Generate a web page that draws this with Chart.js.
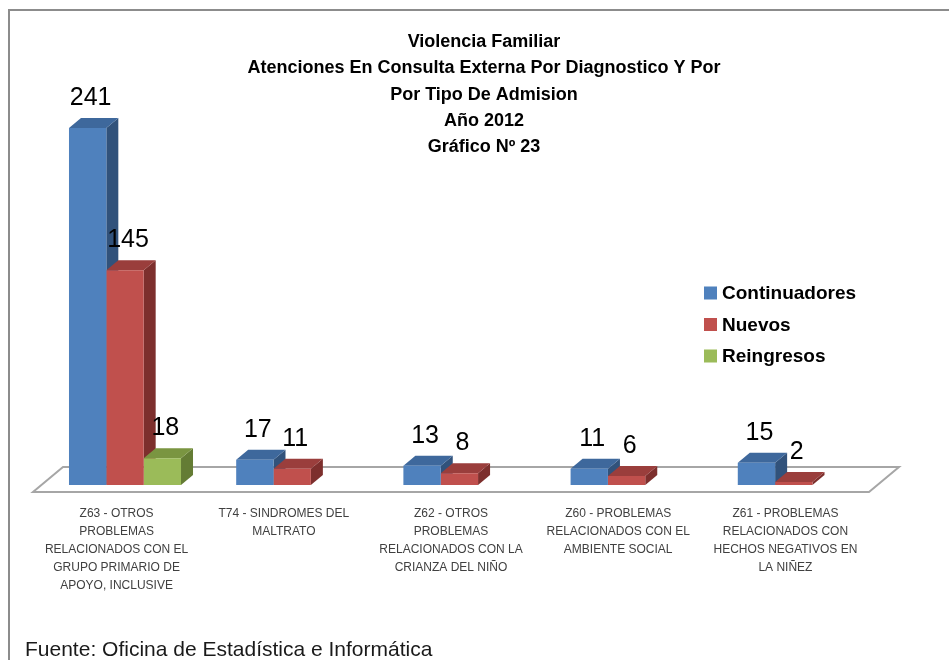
<!DOCTYPE html>
<html>
<head>
<meta charset="utf-8">
<script src="https://cdn.jsdelivr.net/npm/chart.js@4.4.1/dist/chart.umd.min.js"></script>
<style>
  html, body { margin: 0; padding: 0; background: #ffffff; }
  #wrap { width: 949px; height: 660px; position: relative; }
</style>
</head>
<body>
<div id="wrap"><canvas id="chart" width="949" height="660"></canvas></div>
<script>
// Diagnosis categories (multi-line axis labels)
const categories = [
  ["Z63 - OTROS", "PROBLEMAS", "RELACIONADOS CON EL", "GRUPO PRIMARIO DE", "APOYO, INCLUSIVE"],
  ["T74 - SINDROMES DEL", "MALTRATO"],
  ["Z62 - OTROS", "PROBLEMAS", "RELACIONADOS CON LA", "CRIANZA DEL NIÑO"],
  ["Z60 - PROBLEMAS", "RELACIONADOS CON EL", "AMBIENTE SOCIAL"],
  ["Z61 - PROBLEMAS", "RELACIONADOS CON", "HECHOS NEGATIVOS EN", "LA NIÑEZ"]
];

// Attentions per admission type
const continuadores = [241, 17, 13, 11, 15];
const nuevos        = [145, 11, 8, 6, 2];
const reingresos    = [18, null, null, null, null];

const seriesNames = ["Continuadores", "Nuevos", "Reingresos"];

const titleLines = [
  "Violencia Familiar",
  "Atenciones En Consulta Externa Por Diagnostico Y Por",
  "Por Tipo De Admision",
  "Año 2012",
  "Gráfico Nº 23"
];
const sourceNote = "Fuente: Oficina de Estadística e Informática";

// Face shades for the 3D boxes: front, top, side
const shades = [
  { front: "#4F81BD", top: "#3E689C", side: "#31527B" },
  { front: "#C0504D", top: "#9A3E3C", side: "#7D2F2D" },
  { front: "#9BBB59", top: "#7A9541", side: "#647C34" }
];

// Oblique projection of depth
const BAR_DX = 12, BAR_DY = 10;                   // depth of each box
const FLOOR_FRONT_DX = -8.4, FLOOR_FRONT_DY = 7;  // floor front edge relative to bar fronts
const FLOOR_DX = 30, FLOOR_DY = 25;               // full floor depth

function poly(ctx, pts, fill) {
  ctx.beginPath();
  ctx.moveTo(pts[0][0], pts[0][1]);
  for (let i = 1; i < pts.length; i++) ctx.lineTo(pts[i][0], pts[i][1]);
  ctx.closePath();
  ctx.fillStyle = fill;
  ctx.fill();
}

const boxes3d = {
  id: "boxes3d",
  beforeDraw(chart) {
    const ctx = chart.ctx;
    ctx.save();
    // outer frame (left and top edges visible)
    ctx.strokeStyle = "#8C8C8C";
    ctx.lineWidth = 2;
    ctx.beginPath();
    ctx.moveTo(9, 700);
    ctx.lineTo(9, 10);
    ctx.lineTo(960, 10);
    ctx.stroke();
    ctx.restore();
  },
  beforeDatasetsDraw(chart) {
    const ctx = chart.ctx;
    const area = chart.chartArea;
    ctx.save();
    // floor
    const fy = area.bottom + FLOOR_FRONT_DY;
    const fl = area.left + FLOOR_FRONT_DX;
    const fr = area.right + FLOOR_FRONT_DX;
    ctx.beginPath();
    ctx.moveTo(fl, fy);
    ctx.lineTo(fr, fy);
    ctx.lineTo(fr + FLOOR_DX, fy - FLOOR_DY);
    ctx.lineTo(fl + FLOOR_DX, fy - FLOOR_DY);
    ctx.closePath();
    ctx.fillStyle = "#FFFFFF";
    ctx.fill();
    ctx.strokeStyle = "#A6A6A6";
    ctx.lineWidth = 2;
    ctx.stroke();
    // side and top faces, left to right inside each group
    const n = chart.data.labels.length;
    for (let i = 0; i < n; i++) {
      chart.data.datasets.forEach((ds, d) => {
        if (ds.data[i] == null) return;
        const el = chart.getDatasetMeta(d).data[i];
        const x0 = el.x - el.width / 2, x1 = el.x + el.width / 2;
        const top = el.y, base = el.base;
        poly(ctx, [[x1, top], [x1 + BAR_DX, top - BAR_DY], [x1 + BAR_DX, base - BAR_DY], [x1, base]], shades[d].side);
        poly(ctx, [[x0, top], [x0 + BAR_DX, top - BAR_DY], [x1 + BAR_DX, top - BAR_DY], [x1, top]], shades[d].top);
      });
    }
    ctx.restore();
  },
  afterDatasetsDraw(chart) {
    const ctx = chart.ctx;
    ctx.save();
    // value labels
    ctx.font = "25px 'Liberation Sans', Arial, sans-serif";
    ctx.fillStyle = "#000000";
    ctx.textAlign = "center";
    ctx.textBaseline = "middle";
    chart.data.datasets.forEach((ds, d) => {
      chart.getDatasetMeta(d).data.forEach((el, i) => {
        const v = ds.data[i];
        if (v == null) return;
        ctx.fillText(String(v), el.x + BAR_DX / 4, el.y - 30);
      });
    });
    ctx.restore();
  },
  afterDraw(chart) {
    const ctx = chart.ctx;
    ctx.save();
    // title block
    ctx.fillStyle = "#000000";
    ctx.textAlign = "center";
    ctx.textBaseline = "middle";
    ctx.font = "bold 18px 'Liberation Sans', Arial, sans-serif";
    titleLines.forEach((t, k) => ctx.fillText(t, 484, 42 + k * 26.3));
    // legend
    ctx.textAlign = "left";
    ctx.font = "bold 19px 'Liberation Sans', Arial, sans-serif";
    chart.data.datasets.forEach((ds, d) => {
      const cy = 293 + d * 31.5;
      ctx.fillStyle = ds.backgroundColor;
      ctx.fillRect(704, cy - 6.5, 13, 13);
      ctx.fillStyle = "#000000";
      ctx.fillText(ds.label, 722, cy + 1);
    });
    // source note
    ctx.font = "21px 'Liberation Sans', Arial, sans-serif";
    ctx.fillStyle = "#1A1A1A";
    ctx.fillText(sourceNote, 25, 650);
    ctx.restore();
  }
};

const seriesValues = [continuadores, nuevos, reingresos];

new Chart(document.getElementById("chart"), {
  type: "bar",
  data: {
    labels: categories,
    datasets: seriesValues.map((vals, d) => ({
      label: seriesNames[d],
      data: vals,
      backgroundColor: shades[d].front,
      borderWidth: 0,
      categoryPercentage: 0.67,
      barPercentage: 1
    }))
  },
  options: {
    responsive: false,
    animation: false,
    devicePixelRatio: 1,
    layout: { padding: { left: 41.4, right: 71.6, top: 114.7, bottom: 55 } },
    plugins: {
      legend: { display: false },
      title: { display: false },
      tooltip: { enabled: false }
    },
    scales: {
      x: {
        grid: { display: false },
        border: { display: false },
        ticks: {
          padding: 12,
          labelOffset: -8.4,
          maxRotation: 0,
          autoSkip: false,
          color: "#404040",
          font: { family: "'Liberation Sans', Arial, sans-serif", size: 12, lineHeight: 1.5 }
        },
        afterFit(scale) { scale.height = 120; }
      },
      y: { display: false, min: 0, max: 250 }
    }
  },
  plugins: [boxes3d]
});
</script>
</body>
</html>
